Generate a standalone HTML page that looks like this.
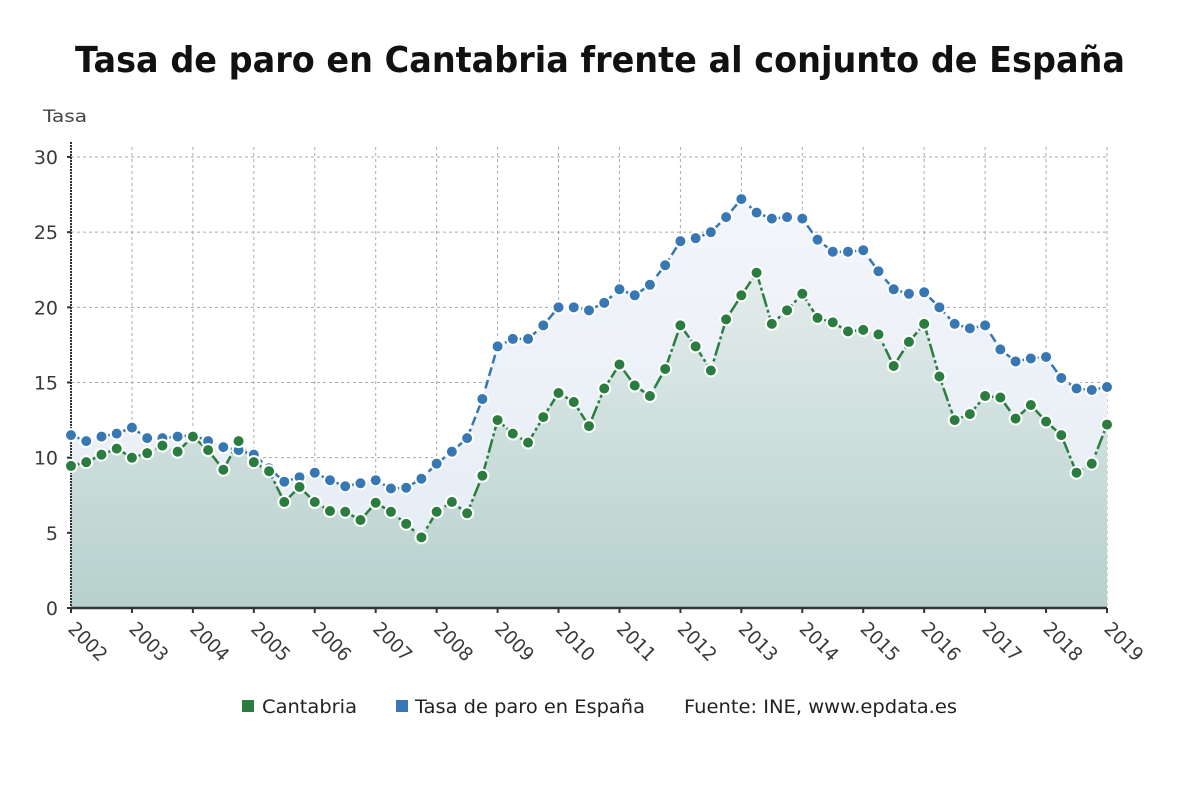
<!DOCTYPE html>
<html><head><meta charset="utf-8">
<style>
body{margin:0;background:#fff;font-family:"DejaVu Sans","Liberation Sans",sans-serif;}
#wrap{position:relative;width:1200px;height:809px;overflow:hidden;}
</style></head>
<body>
<div id="wrap">
<svg id="chart" width="1200" height="809">
<defs>
<linearGradient id="gGreen" x1="0" y1="0" x2="0" y2="1">
<stop offset="0" stop-color="#e4ecec"/><stop offset="1" stop-color="#b6d1cd"/>
</linearGradient>
<linearGradient id="gBlue" x1="0" y1="0" x2="0" y2="1">
<stop offset="0" stop-color="#f3f6fb"/><stop offset="1" stop-color="#e4ebf3"/>
</linearGradient>
</defs>
<text x="75" y="72" textLength="1050" lengthAdjust="spacingAndGlyphs" font-size="36" font-weight="bold" fill="#111">Tasa de paro en Cantabria frente al conjunto de España</text>
<text x="43" y="122" textLength="44" lengthAdjust="spacingAndGlyphs" font-size="17" fill="#444">Tasa</text>
<g id="grid"></g><g id="areas"></g><g id="lines"></g><g id="axes"></g><g id="dots"></g>
<g>
<g><rect x="242" y="700" width="12" height="12" fill="#2a7d3e"/><text x="262" y="713" textLength="95" lengthAdjust="spacingAndGlyphs" font-size="19" fill="#222">Cantabria</text></g>
<g><rect x="396" y="700" width="12" height="12" fill="#3677b4"/><text x="415" y="713" textLength="230" lengthAdjust="spacingAndGlyphs" font-size="19" fill="#222">Tasa de paro en España</text></g>
<text x="684" y="713" textLength="273" lengthAdjust="spacingAndGlyphs" font-size="19" fill="#222">Fuente: INE, www.epdata.es</text>
</g>
</svg>
</div>
<script>
const years=[2002,2003,2004,2005,2006,2007,2008,2009,2010,2011,2012,2013,2014,2015,2016,2017,2018,2019];
const yTicks=[0,5,10,15,20,25,30];
const cantabria=[9.45,9.7,10.2,10.6, 10.0,10.3,10.8,10.4, 11.4,10.5,9.2,11.1, 9.7,9.1,7.05,8.05, 7.05,6.45,6.4,5.85, 7.0,6.4,5.6,4.7, 6.4,7.05,6.3,8.8, 12.5,11.6,11.0,12.7, 14.3,13.7,12.1,14.6, 16.2,14.8,14.1,15.9, 18.8,17.4,15.8,19.2, 20.8,22.3,18.9,19.8, 20.9,19.3,19.0,18.4, 18.5,18.2,16.1,17.7, 18.9,15.4,12.5,12.9, 14.1,14.0,12.6,13.5, 12.4,11.5,9.0,9.6, 12.2];
const espana=[11.5,11.1,11.4,11.6, 12.0,11.3,11.3,11.4, 11.5,11.1,10.7,10.5, 10.2,9.3,8.4,8.7, 9.0,8.5,8.1,8.3, 8.5,7.95,8.0,8.6, 9.6,10.4,11.3,13.9, 17.4,17.9,17.9,18.8, 20.0,20.0,19.8,20.3, 21.2,20.8,21.5,22.8, 24.4,24.6,25.0,26.0, 27.2,26.3,25.9,26.0, 25.9,24.5,23.7,23.7, 23.8,22.4,21.2,20.9, 21.0,20.0,18.9,18.6, 18.8,17.2,16.4,16.6, 16.7,15.3,14.6,14.5, 14.7];

const NS="http://www.w3.org/2000/svg";
const X0=71,X1=1107,Y0=608,Y1=157;
const xs=t=>X0+(t-years[0])/(years[years.length-1]-years[0])*(X1-X0);
const ys=v=>Y0-v/30*(Y0-Y1);
const qx=i=>xs(years[0]+i/4);
function mk(tag,attrs,parent){const e=document.createElementNS(NS,tag);for(const k in attrs)e.setAttribute(k,attrs[k]);document.getElementById(parent).appendChild(e);return e;}

yTicks.forEach(v=>{
  const l=mk('line',{x1:X0,x2:X1,y1:ys(v),y2:ys(v),stroke:'#aaa','stroke-width':1,'stroke-dasharray':'3,3'},'grid');
  
  
  const t=mk('text',{x:58,y:ys(v)+7,'text-anchor':'end','font-size':19,fill:'#3a3a3a'},'axes');
  t.textContent=v;
  
  
  mk('line',{x1:X0-4,x2:X0,y1:ys(v),y2:ys(v),stroke:'#333','stroke-width':2},'axes');
});
years.forEach(yr=>{
  const x=xs(yr);
  const l=mk('line',{x1:x,x2:x,y1:Y1-10,y2:Y0,stroke:'#aaa','stroke-width':1,'stroke-dasharray':'3,3'},'grid');
  
  
  mk('line',{x1:x,x2:x,y1:Y0,y2:Y0+5,stroke:'#333','stroke-width':2},'axes');
  const t=mk('text',{x:x-4,y:Y0+22,'font-size':19,fill:'#3a3a3a',textLength:46,lengthAdjust:'spacingAndGlyphs',transform:`rotate(45 ${x-4} ${Y0+22})`},'axes');
  t.textContent=yr;
  
  
});
function pts(arr){return arr.map((v,i)=>qx(i).toFixed(1)+','+ys(v).toFixed(1)).join(' ');}
function area(arr){return `${qx(0)},${Y0} `+pts(arr)+` ${qx(arr.length-1)},${Y0}`;}
const ab=mk('polygon',{points:area(espana),fill:'url(#gBlue)'},'areas');


const ag=mk('polygon',{points:area(cantabria),fill:'url(#gGreen)'},'areas');


const lb=mk('polyline',{points:pts(espana),fill:'none',stroke:'#3677b4','stroke-width':2.5,'stroke-dasharray':'9,4'},'lines');


const lg=mk('polyline',{points:pts(cantabria),fill:'none',stroke:'#2a7d3e','stroke-width':2.5,'stroke-dasharray':'14,3,3,3'},'lines');


mk('line',{x1:X0,x2:X0,y1:142,y2:Y0,stroke:'#333','stroke-width':2,'stroke-dasharray':'2,1'},'axes');
mk('line',{x1:X0,x2:X1,y1:Y0,y2:Y0,stroke:'#333','stroke-width':2.5},'axes');
espana.forEach((v,i)=>{
  const c=mk('circle',{cx:qx(i),cy:ys(v),r:6,fill:'#3677b4',stroke:'#fff','stroke-width':2},'dots');
  
  
});
cantabria.forEach((v,i)=>{
  const c=mk('circle',{cx:qx(i),cy:ys(v),r:6,fill:'#2a7d3e',stroke:'#fff','stroke-width':2},'dots');
  
  
});
</script>
</body></html>
